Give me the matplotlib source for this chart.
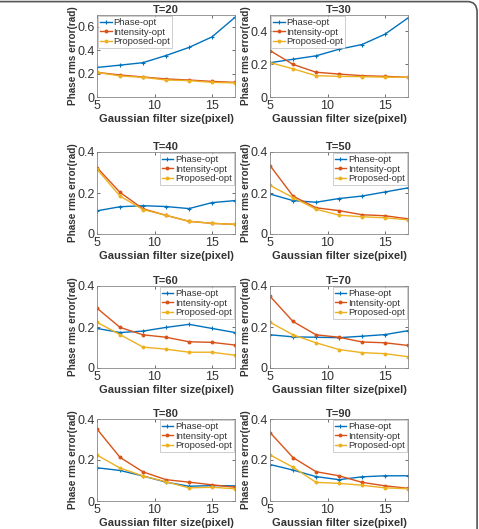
import numpy as np
import matplotlib.pyplot as plt
from matplotlib.patches import FancyBboxPatch

plt.rcParams['font.family'] = ['Liberation Sans', 'DejaVu Sans']

# Gaussian filter sizes
filter_size = [5, 7, 9, 11, 13, 15, 17]
titles = ['T=20', 'T=30', 'T=40', 'T=50', 'T=60', 'T=70', 'T=80', 'T=90']

phase_opt = [
    [0.252, 0.272, 0.293, 0.354, 0.423, 0.513, 0.680],
    [0.209, 0.230, 0.251, 0.291, 0.320, 0.383, 0.482],
    [0.113, 0.133, 0.138, 0.134, 0.124, 0.153, 0.163],
    [0.195, 0.163, 0.155, 0.173, 0.185, 0.205, 0.225],
    [0.193, 0.173, 0.180, 0.198, 0.213, 0.193, 0.173],
    [0.162, 0.152, 0.150, 0.148, 0.155, 0.163, 0.182],
    [0.162, 0.149, 0.122, 0.092, 0.072, 0.075, 0.074],
    [0.178, 0.151, 0.119, 0.104, 0.118, 0.123, 0.123],
]
intensity_opt = [
    [0.210, 0.188, 0.171, 0.154, 0.145, 0.133, 0.125],
    [0.283, 0.199, 0.151, 0.140, 0.130, 0.126, 0.120],
    [0.324, 0.203, 0.123, 0.091, 0.062, 0.052, 0.047],
    [0.334, 0.185, 0.128, 0.114, 0.094, 0.089, 0.074],
    [0.292, 0.198, 0.162, 0.150, 0.128, 0.125, 0.112],
    [0.350, 0.227, 0.162, 0.150, 0.127, 0.123, 0.110],
    [0.351, 0.213, 0.142, 0.104, 0.092, 0.079, 0.067],
    [0.334, 0.212, 0.143, 0.123, 0.091, 0.074, 0.062],
]
proposed_opt = [
    [0.210, 0.180, 0.168, 0.145, 0.140, 0.125, 0.120],
    [0.210, 0.172, 0.130, 0.126, 0.124, 0.121, 0.120],
    [0.316, 0.185, 0.119, 0.091, 0.062, 0.052, 0.047],
    [0.237, 0.178, 0.121, 0.092, 0.084, 0.079, 0.069],
    [0.223, 0.163, 0.102, 0.092, 0.077, 0.077, 0.062],
    [0.223, 0.162, 0.123, 0.090, 0.075, 0.070, 0.055],
    [0.224, 0.161, 0.122, 0.094, 0.064, 0.067, 0.060],
    [0.225, 0.165, 0.091, 0.086, 0.077, 0.064, 0.060],
]
y_max = [0.7, 0.5, 0.4, 0.4, 0.4, 0.4, 0.4, 0.4]
y_ticks = [[0, 0.2, 0.4, 0.6], [0, 0.2, 0.4]] + [[0, 0.2, 0.4]] * 6
legend_loc = ['upper left', 'upper left'] + ['upper right'] * 6
series_names = ['Phase-opt', 'Intensity-opt', 'Proposed-opt']

colors = ['#0072BD', '#D95319', '#EDB120']
text_col = '#333333'

fig = plt.figure(figsize=(4.79, 5.29), dpi=100)

# rounded frame around the whole figure (left and bottom sides fall outside)
frame = FancyBboxPatch((-0.2, -0.2), 1.196, 1.197, boxstyle='round,pad=0,rounding_size=0.02',
                       transform=fig.transFigure, fill=False, edgecolor='#555555', lw=1.2)
fig.patches.append(frame)

lefts = [97 / 479, 270 / 479]
tops = [15, 152, 286, 419]
w = 138 / 479
h = 82 / 529

for i in range(8):
    r, c = divmod(i, 2)
    ax = fig.add_axes([lefts[c], 1 - (tops[r] + 82) / 529, w, h])
    ax.plot(filter_size, phase_opt[i], color=colors[0], marker='+', ms=3, mew=0.8, lw=1)
    ax.plot(filter_size, intensity_opt[i], color=colors[1], marker='o', ms=1.8, lw=1)
    ax.plot(filter_size, proposed_opt[i], color=colors[2], marker='o', ms=1.8, lw=1)
    ax.set_xlim(5, 17)
    ax.set_ylim(0, y_max[i])
    ax.set_xticks([5, 10, 15])
    ax.set_yticks(y_ticks[i])
    ax.set_yticklabels([('%g' % v) for v in y_ticks[i]])
    ax.tick_params(direction='in', length=2, width=0.5, labelsize=9, colors=text_col,
                   top=True, right=True)
    ax.tick_params(axis='x', pad=2.5)
    ax.tick_params(axis='y', pad=1.5)
    for s in ax.spines.values():
        s.set_color('#888888')
        s.set_linewidth(0.6)
    ax.set_title(titles[i], fontsize=8, fontweight='bold', color=text_col, pad=1.2)
    ax.set_xlabel('Gaussian filter size(pixel)', fontsize=8, fontweight='bold', color=text_col, labelpad=1.2)
    ax.set_ylabel('Phase rms error(rad)', fontsize=7.2, fontweight='bold', color=text_col)
    ax.yaxis.set_label_coords(-0.14, 0.5)
    leg = ax.legend(series_names, loc=legend_loc[i], fontsize=6.8, frameon=True, fancybox=False,
                    borderpad=0.2, handlelength=1.2, handletextpad=0.2, labelspacing=0.05,
                    borderaxespad=0.15)
    leg.get_frame().set_edgecolor('#aaaaaa')
    leg.get_frame().set_linewidth(0.5)
    for t in leg.get_texts():
        t.set_color(text_col)

plt.savefig('out.png', dpi=100)
